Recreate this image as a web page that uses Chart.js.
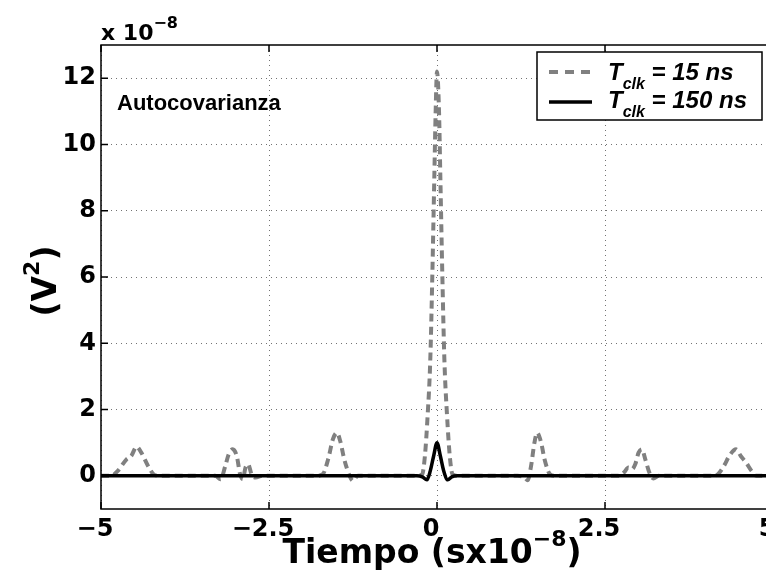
<!DOCTYPE html>
<html>
<head>
<meta charset="utf-8">
<script src="https://cdn.jsdelivr.net/npm/chart.js@4"></script>
<style>
  html, body { margin: 0; padding: 0; background: #fff; overflow: hidden; }
  #wrap { width: 766px; height: 572px; overflow: hidden; }
</style>
</head>
<body>
<div id="wrap"><canvas id="autocov" width="790" height="572"></canvas></div>
<script>
// tiempo en unidades de 1e-8 s, valores en unidades de 1e-8 V^2
const t15 = [-5, -4.85, -4.75, -4.62, -4.55, -4.47, -4.4, -4.3, -4.2, -4.1,
  -3.3, -3.22, -3.15, -3.1, -3.04, -2.98, -2.93, -2.89, -2.85, -2.81, -2.76, -2.7, -2.6,
  -1.8, -1.7, -1.62, -1.55, -1.49, -1.44, -1.38, -1.3, -1.25, -1.18, -1.0,
  -0.3, -0.22, -0.18, -0.14, -0.1, -0.07, -0.04, -0.02, 0, 0.03, 0.05, 0.08, 0.11, 0.15, 0.19, 0.23, 0.3,
  1.2, 1.3, 1.35, 1.4, 1.45, 1.49, 1.55, 1.6, 1.68, 1.75, 2.0,
  2.7, 2.78, 2.85, 2.9, 2.95, 3.0, 3.05, 3.1, 3.16, 3.22, 3.3,
  4.1, 4.18, 4.27, 4.35, 4.45, 4.52, 4.6, 4.68, 4.75, 5];
const v15 = [0, 0, 0.15, 0.5, 0.6, 0.88, 0.7, 0.3, 0.02, 0,
  0, -0.1, 0.3, 0.65, 0.8, 0.6, 0.05, -0.1, 0.25, 0.35, 0.05, -0.05, 0,
  0, 0.05, 0.5, 1.1, 1.3, 1.05, 0.5, 0, -0.15, 0, 0,
  0, 0.05, 0.6, 1.8, 3.5, 6, 9, 11, 12.2, 11, 9, 6, 3.5, 1.8, 0.6, 0.05, 0,
  0, -0.05, -0.13, 0.3, 1.0, 1.3, 1.0, 0.5, 0.05, 0, 0,
  0, 0.1, 0.25, 0.2, 0.35, 0.7, 0.8, 0.5, 0.1, -0.08, 0,
  0, 0.05, 0.3, 0.6, 0.8, 0.6, 0.4, 0.15, 0, 0];

const t150 = [-5, -0.3, -0.22, -0.15, -0.1, -0.05, 0, 0.05, 0.1, 0.16, 0.22, 0.3, 5];
const v150 = [0, 0, -0.03, -0.12, 0.15, 0.6, 1.0, 0.6, 0.15, -0.12, -0.03, 0, 0];

const xTicks = [-5, -2.5, 0, 2.5, 5];
const yTicks = [0, 2, 4, 6, 8, 10, 12];

const FONT = '"Liberation Sans", Arial, sans-serif';
const WIDE = '"DejaVu Sans", sans-serif';

function pts(xs, ys) {
  return xs.map((x, i) => ({ x: x, y: ys[i] }));
}

// texto con super/subindices
function richText(ctx, parts, x, y, align, fam) {
  const f = fam || FONT;
  let w = 0;
  parts.forEach(p => {
    ctx.font = (p.style || 'bold') + ' ' + p.size + 'px ' + f;
    p.w = ctx.measureText(p.t).width;
    w += p.w;
  });
  let cx = align === 'center' ? x - w / 2 : x;
  parts.forEach(p => {
    ctx.font = (p.style || 'bold') + ' ' + p.size + 'px ' + f;
    ctx.fillText(p.t, cx, y + (p.dy || 0));
    cx += p.w;
  });
}

const decor = {
  id: 'decor',
  afterDraw(chart) {
    const { ctx, chartArea: a, scales } = chart;
    const x = scales.x, y = scales.y;
    ctx.save();
    ctx.fillStyle = '#000';
    ctx.strokeStyle = '#000';
    ctx.textBaseline = 'alphabetic';
    ctx.textAlign = 'left';

    // marco y marcas interiores
    ctx.lineWidth = 1.5;
    ctx.strokeRect(a.left, a.top, a.right - a.left, a.bottom - a.top);
    ctx.beginPath();
    xTicks.forEach(v => {
      const px = x.getPixelForValue(v);
      ctx.moveTo(px, a.bottom); ctx.lineTo(px, a.bottom - 7);
      ctx.moveTo(px, a.top); ctx.lineTo(px, a.top + 7);
    });
    yTicks.forEach(v => {
      const py = y.getPixelForValue(v);
      ctx.moveTo(a.left, py); ctx.lineTo(a.left + 7, py);
      ctx.moveTo(a.right, py); ctx.lineTo(a.right - 7, py);
    });
    ctx.stroke();

    // factor de escala
    richText(ctx, [{ t: 'x 10', size: 22 }, { t: '\u22128', size: 16, dy: -12 }], a.left, 40, 'left', WIDE);

    // titulo interior
    ctx.font = 'bold 22px ' + FONT;
    ctx.fillText('Autocovarianza', 117, 110);

    // etiqueta eje x
    richText(ctx, [
      { t: 'Tiempo (sx10', size: 33 },
      { t: '\u22128', size: 22, dy: -17 },
      { t: ')', size: 33 }
    ], 432, 563, 'center', WIDE);

    // etiqueta eje y
    ctx.save();
    ctx.translate(56, (a.top + a.bottom) / 2 + 4);
    ctx.rotate(-Math.PI / 2);
    richText(ctx, [
      { t: '(V', size: 33 },
      { t: '2', size: 22, dy: -17 },
      { t: ')', size: 33 }
    ], 0, 0, 'center', WIDE);
    ctx.restore();

    // leyenda
    const lx = 537, ly = 52, lw = 225, lh = 68;
    ctx.fillStyle = '#fff';
    ctx.fillRect(lx, ly, lw, lh);
    ctx.lineWidth = 1.5;
    ctx.strokeRect(lx, ly, lw, lh);
    ctx.lineWidth = 4;
    ctx.strokeStyle = '#808080';
    ctx.setLineDash([9, 7]);
    ctx.beginPath(); ctx.moveTo(549, 72); ctx.lineTo(592, 72); ctx.stroke();
    ctx.setLineDash([]);
    ctx.strokeStyle = '#000';
    ctx.lineWidth = 3.5;
    ctx.beginPath(); ctx.moveTo(549, 102); ctx.lineTo(592, 102); ctx.stroke();
    ctx.fillStyle = '#000';
    richText(ctx, [
      { t: 'T', size: 24, style: 'italic bold' },
      { t: 'clk', size: 16, style: 'italic bold', dy: 9 },
      { t: ' = 15 ns', size: 24, style: 'italic bold' }
    ], 608, 80);
    richText(ctx, [
      { t: 'T', size: 24, style: 'italic bold' },
      { t: 'clk', size: 16, style: 'italic bold', dy: 9 },
      { t: ' = 150 ns', size: 24, style: 'italic bold' }
    ], 608, 108);
    ctx.restore();
  }
};

new Chart(document.getElementById('autocov'), {
  type: 'line',
  data: {
    datasets: [{
      label: 'Tclk = 150 ns',
      data: pts(t150, v150),
      borderColor: '#000',
      borderWidth: 3.5,
      pointRadius: 0,
      cubicInterpolationMode: 'monotone',
      order: 0
    }, {
      label: 'Tclk = 15 ns',
      data: pts(t15, v15),
      borderColor: '#808080',
      borderWidth: 4,
      borderDash: [8, 5],
      pointRadius: 0,
      cubicInterpolationMode: 'monotone',
      order: 1
    }]
  },
  options: {
    responsive: false,
    animation: false,
    devicePixelRatio: 1,
    layout: { padding: { top: 45, right: 17, left: 0, bottom: 0 } },
    plugins: { legend: { display: false }, tooltip: { enabled: false } },
    scales: {
      x: {
        type: 'linear',
        min: -5,
        max: 5,
        afterBuildTicks: s => { s.ticks = xTicks.map(v => ({ value: v })); },
        afterFit: s => { s.height = 63; },
        ticks: {
          color: '#000',
          padding: 6,
          maxRotation: 0,
          labelOffset: -6,
          font: { family: WIDE, size: 24, weight: 'bold' },
          callback: v => String(v).replace('-', '\u2212')
        },
        grid: { color: 'rgba(0,0,0,0.55)', lineWidth: 1, drawTicks: false },
        border: { display: false, dash: [1, 4] }
      },
      y: {
        min: -1,
        max: 13,
        afterBuildTicks: s => { s.ticks = yTicks.map(v => ({ value: v })); },
        afterFit: s => { s.width = 101; },
        ticks: {
          color: '#000',
          padding: 5,
          font: { family: WIDE, size: 24, weight: 'bold' }
        },
        grid: { color: 'rgba(0,0,0,0.55)', lineWidth: 1, drawTicks: false },
        border: { display: false, dash: [1, 4] }
      }
    }
  },
  plugins: [decor]
});
</script>
</body>
</html>
